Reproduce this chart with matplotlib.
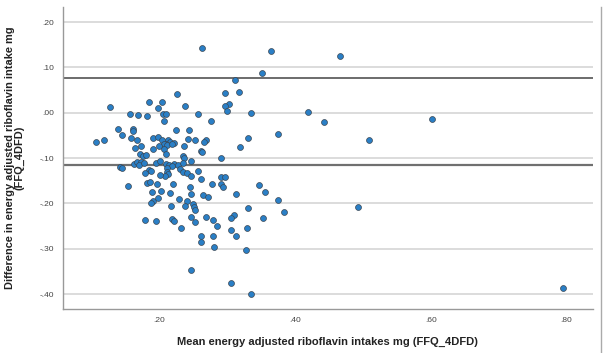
import matplotlib.pyplot as plt
import numpy as np

# Bland-Altman data: mean of the two methods vs their difference
mean_intake = [
    0.263, 0.365, 0.466, 0.351, 0.311, 0.226, 0.296, 0.317, 0.127, 0.184,
    0.203, 0.197, 0.238, 0.302, 0.297, 0.299, 0.256, 0.335, 0.419, 0.156,
    0.168, 0.181, 0.205, 0.210, 0.207, 0.276, 0.443, 0.601, 0.139, 0.161,
    0.161, 0.145, 0.224, 0.244, 0.375, 0.107, 0.118, 0.158, 0.167, 0.191,
    0.198, 0.203, 0.213, 0.215, 0.221, 0.209, 0.206, 0.211, 0.219, 0.242,
    0.252, 0.268, 0.265, 0.330, 0.319, 0.509, 0.164, 0.172, 0.191, 0.199,
    0.207, 0.236, 0.210, 0.261, 0.263, 0.171, 0.176, 0.180, 0.235, 0.236,
    0.290, 0.142, 0.145, 0.162, 0.166, 0.173, 0.170, 0.177, 0.195, 0.201,
    0.210, 0.214, 0.221, 0.218, 0.227, 0.246, 0.234, 0.211, 0.211, 0.213,
    0.208, 0.201, 0.185, 0.188, 0.178, 0.230, 0.234, 0.240, 0.247, 0.256,
    0.261, 0.290, 0.297, 0.154, 0.181, 0.186, 0.196, 0.220, 0.245, 0.277,
    0.290, 0.294, 0.346, 0.355, 0.313, 0.189, 0.202, 0.215, 0.246, 0.264,
    0.271, 0.191, 0.188, 0.198, 0.228, 0.240, 0.250, 0.251, 0.252, 0.238,
    0.217, 0.375, 0.330, 0.493, 0.383, 0.310, 0.305, 0.352, 0.246, 0.269,
    0.279, 0.285, 0.252, 0.219, 0.222, 0.178, 0.195, 0.231, 0.306, 0.329,
    0.261, 0.279, 0.313, 0.261, 0.280, 0.327, 0.247, 0.305, 0.335, 0.794,
]
diff_intake = [
    0.142, 0.136, 0.126, 0.088, 0.072, 0.041, 0.043, 0.045, 0.013, 0.024,
    0.024, 0.010, 0.014, 0.020, 0.015, 0.003, -0.002, -0.001, 0.002, -0.002,
    -0.005, -0.007, -0.002, -0.002, -0.018, -0.019, -0.021, -0.013, -0.035, -0.035,
    -0.040, -0.050, -0.039, -0.037, -0.046, -0.065, -0.059, -0.056, -0.059, -0.055,
    -0.053, -0.059, -0.060, -0.064, -0.067, -0.068, -0.070, -0.072, -0.070, -0.058,
    -0.060, -0.060, -0.064, -0.056, -0.075, -0.059, -0.078, -0.073, -0.080, -0.073,
    -0.081, -0.073, -0.092, -0.084, -0.087, -0.091, -0.095, -0.094, -0.095, -0.100,
    -0.099, -0.119, -0.121, -0.112, -0.108, -0.108, -0.115, -0.110, -0.111, -0.107,
    -0.113, -0.115, -0.112, -0.117, -0.116, -0.106, -0.110, -0.121, -0.131, -0.135,
    -0.140, -0.137, -0.126, -0.129, -0.134, -0.125, -0.131, -0.134, -0.139, -0.128,
    -0.147, -0.142, -0.141, -0.161, -0.154, -0.153, -0.158, -0.158, -0.164, -0.158,
    -0.158, -0.164, -0.159, -0.174, -0.179, -0.175, -0.172, -0.178, -0.180, -0.182,
    -0.186, -0.194, -0.200, -0.189, -0.190, -0.194, -0.202, -0.207, -0.215, -0.205,
    -0.205, -0.193, -0.211, -0.207, -0.220, -0.225, -0.233, -0.233, -0.230, -0.231,
    -0.237, -0.249, -0.241, -0.234, -0.239, -0.236, -0.239, -0.255, -0.258, -0.255,
    -0.271, -0.271, -0.271, -0.285, -0.296, -0.302, -0.348, -0.376, -0.400, -0.387,
]
upper_limit = 0.076
lower_limit = -0.116

y_ticks = [0.20, 0.10, 0.00, -0.10, -0.20, -0.30, -0.40]
x_ticks = [0.20, 0.40, 0.60, 0.80]


def spss_label(v):
    # SPSS style: drop the leading zero, keep two decimals
    s = f"{v:.2f}"
    return s.replace("0.", ".", 1)


plt.rcParams['font.family'] = ['Liberation Sans', 'DejaVu Sans']

fig = plt.figure(figsize=(6.07, 3.53), dpi=100)
ax = fig.add_axes([0.1033, 0.1246, 0.8737, 0.8564])

for t in y_ticks:
    ax.axhline(t, color='#dcdcdc', lw=1.4, zorder=0)
ax.axhline(upper_limit, color='#606060', lw=1.3, zorder=1)
ax.axhline(lower_limit, color='#707070', lw=1.6, zorder=1)

ax.scatter(mean_intake, diff_intake, s=18, c='#2a7fc6', edgecolors='#3a4652',
           linewidths=0.5, zorder=3)

ax.set_xlim(0.0572, 0.839)
ax.set_ylim(-0.433, 0.234)
ax.set_xticks(x_ticks)
ax.set_xticklabels([spss_label(v) for v in x_ticks])
ax.set_yticks(y_ticks)
ax.set_yticklabels([spss_label(v) for v in y_ticks])
ax.tick_params(length=0, labelsize=6, colors='#444444', pad=6)

for side in ['top', 'right']:
    ax.spines[side].set_visible(False)
for side in ['left', 'bottom']:
    ax.spines[side].set_color('#999999')
    ax.spines[side].set_linewidth(1.0)

ax.set_xlabel('Mean energy adjusted riboflavin intakes mg (FFQ_4DFD)',
              fontsize=8, fontweight='bold', color='#222222', labelpad=9)
ax.set_ylabel('Difference in energy adjusted riboflavin intake mg\n(FFQ_4DFD)',
              fontsize=7.9, fontweight='bold', color='#222222', labelpad=11,
              linespacing=0.9)

# outer chart frame edge on the right
fig.add_artist(plt.Line2D([601 / 607, 601 / 607], [0.0, 0.98],
                          color='#aaaaaa', lw=1.0))

fig.savefig('out.png', dpi=100)
